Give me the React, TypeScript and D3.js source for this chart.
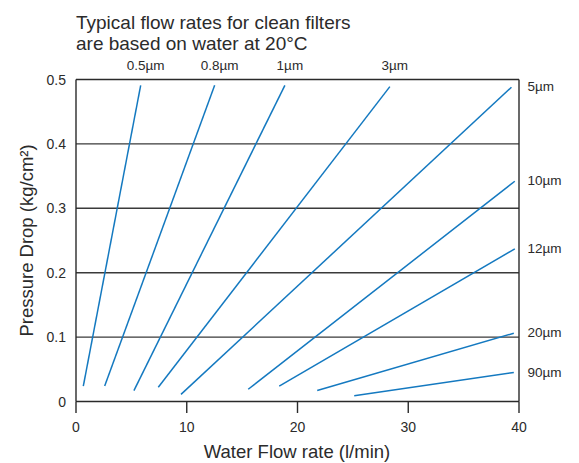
import React from "react";
import * as d3 from "d3";

const sizes = ["0.5µm", "0.8µm", "1µm", "3µm", "5µm", "10µm", "12µm", "20µm", "90µm"];
const xStart = [0.66, 2.59, 5.23, 7.43, 9.48, 15.55, 18.35, 21.78, 25.12];
const yStart = [0.024, 0.024, 0.017, 0.022, 0.011, 0.019, 0.024, 0.017, 0.009];
const xEnd = [5.84, 12.52, 18.86, 28.34, 39.32, 39.62, 39.62, 39.53, 39.53];
const yEnd = [0.491, 0.491, 0.491, 0.489, 0.488, 0.342, 0.237, 0.106, 0.045];
const labelSide = ["top", "top", "top", "top", "right", "right", "right", "right", "right"];
const xTicks = [0, 10, 20, 30, 40];
const yTicks = [0, 0.1, 0.2, 0.3, 0.4, 0.5];
const gridValues = [0.1, 0.2, 0.3, 0.4];
const titleLines = ["Typical flow rates for clean filters", "are based on water at 20°C"];
const xTitle = "Water Flow rate (l/min)";
const yTitle = "Pressure Drop (kg/cm²)";

const W = 579;
const H = 463;
const FONT = "'Liberation Sans', Arial, Helvetica, sans-serif";

export default function App() {
  const x = d3.scaleLinear().domain([0, 40]).range([76, 519]);
  const y = d3.scaleLinear().domain([0, 0.5]).range([401.5, 79.5]);
  const blue = "#1479c0";
  const textColor = "#2b2b2b";

  return (
    <svg
      width={W}
      height={H}
      style={{ position: "absolute", left: 0, top: 0, background: "#fff" }}
      fontFamily={FONT}
    >
      {/* title */}
      {titleLines.map((t, i) => (
        <text key={t} x={76} y={29 + i * 21} fontSize={19} fill={textColor}>
          {t}
        </text>
      ))}

      {/* grid lines */}
      {gridValues.map((v) => (
        <line key={v} x1={x(0)} x2={x(40)} y1={y(v)} y2={y(v)} stroke="#3a3a3a" strokeWidth={1.4} />
      ))}

      {/* frame */}
      <line x1={x(0)} x2={x(40)} y1={y(0.5)} y2={y(0.5)} stroke="#2a2a2a" strokeWidth={1.4} />
      <line x1={x(40)} x2={x(40)} y1={y(0.5)} y2={y(0)} stroke="#2a2a2a" strokeWidth={1.4} />
      <line x1={x(0)} x2={x(0)} y1={y(0.5)} y2={y(0)} stroke="#2a2a2a" strokeWidth={1.4} />
      <line x1={x(0)} x2={x(40)} y1={y(0)} y2={y(0)} stroke="#2a2a2a" strokeWidth={1.6} />

      {/* x ticks */}
      {xTicks.map((t) => (
        <g key={t}>
          <line x1={x(t)} x2={x(t)} y1={y(0)} y2={y(0) + 11.5} stroke="#2a2a2a" strokeWidth={1.4} />
          <text x={x(t)} y={432} fontSize={14} textAnchor="middle" fill={textColor}>
            {t}
          </text>
        </g>
      ))}

      {/* y tick labels */}
      {yTicks.map((t) => (
        <text key={t} x={66} y={y(t) + 5} fontSize={14} textAnchor="end" fill={textColor}>
          {t === 0 ? "0" : d3.format(".1f")(t)}
        </text>
      ))}

      {/* axis titles */}
      <text x={297} y={458} fontSize={18.5} textAnchor="middle" fill={textColor}>
        {xTitle}
      </text>
      <text
        transform={`translate(33, ${y(0.25)}) rotate(-90)`}
        fontSize={18.5}
        textAnchor="middle"
        fill={textColor}
      >
        {yTitle}
      </text>

      {/* series lines */}
      {sizes.map((s, i) => (
        <line
          key={s}
          x1={x(xStart[i])}
          y1={y(yStart[i])}
          x2={x(xEnd[i])}
          y2={y(yEnd[i])}
          stroke={blue}
          strokeWidth={1.5}
        />
      ))}

      {/* series labels */}
      {sizes.map((s, i) =>
        labelSide[i] === "top" ? (
          <text key={s} x={x(xEnd[i]) + 5} y={70} fontSize={13.5} textAnchor="middle" fill={textColor}>
            {s}
          </text>
        ) : (
          <text key={s} x={527.5} y={y(yEnd[i]) + 4} fontSize={13.5} fill={textColor}>
            {s}
          </text>
        )
      )}
    </svg>
  );
}
